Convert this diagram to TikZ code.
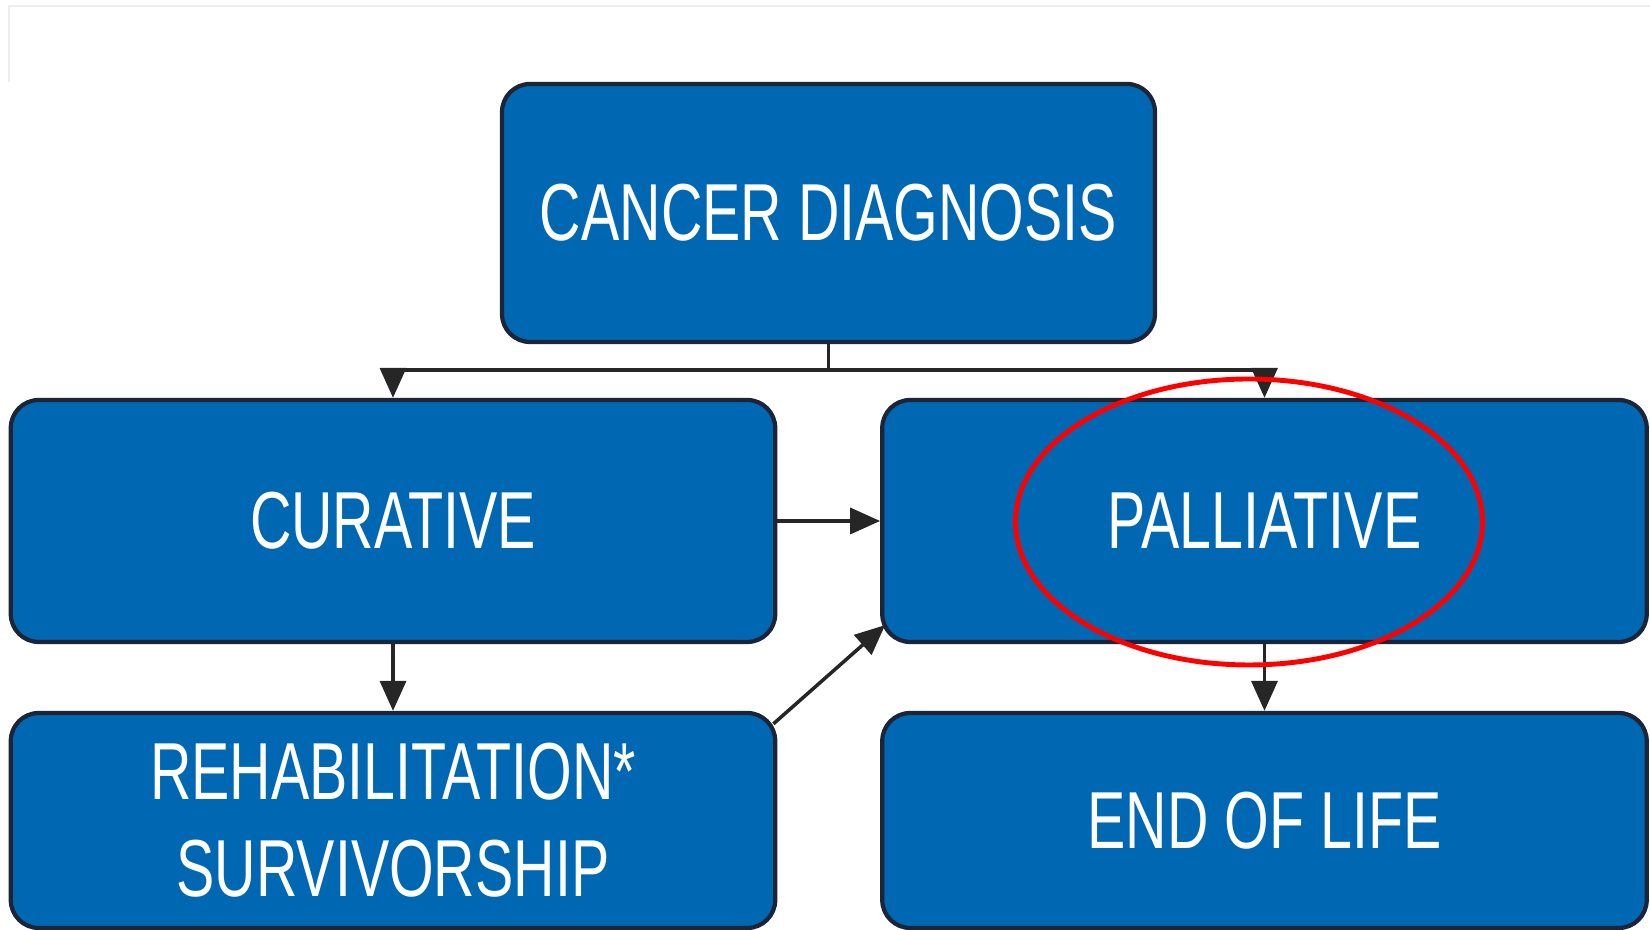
\documentclass[tikz,border=0pt]{standalone}
\usepackage{fontspec}
\usepackage{tikz}
\usetikzlibrary{arrows.meta,calc}
\newfontfamily\narrowsans[FakeStretch=0.71]{Liberation Sans}
\definecolor{boxblue}{RGB}{0,103,178}
\definecolor{boxedge}{RGB}{28,36,56}
\definecolor{framegray}{RGB}{238,238,238}

\begin{document}
\begin{tikzpicture}[every node/.style={font=\narrowsans\fontsize{23}{27.6}\selectfont}]
  \tikzset{
    stage/.style={draw=boxedge, line width=1.2pt, fill=boxblue, text=white,
      rounded corners=0.28cm, align=center, inner sep=0pt},
    link/.style={draw=black!85, line width=1pt},
    linkarrow/.style={link, -{Triangle[length=0.3cm,width=0.26cm]}}
  }
  \useasboundingbox (0,0) rectangle (16.5,9.3);

  % faint frame at top left
  \draw[framegray, line width=0.6pt] (0.09,8.48) -- (0.09,9.24) -- (16.5,9.24);

  % Top: diagnosis
  \node[stage, minimum width=6.53cm, minimum height=2.58cm] (diag) at (8.285,7.17) {CANCER DIAGNOSIS};

  % Middle row
  \node[stage, minimum width=7.645cm, minimum height=2.42cm] (cur) at (3.93,4.09) {CURATIVE};
  \node[stage, minimum width=7.645cm, minimum height=2.42cm] (pal) at (12.645,4.09) {PALLIATIVE};

  % Bottom row
  \node[stage, minimum width=7.645cm, minimum height=2.15cm] (reh) at (3.93,1.095) {REHABILITATION*\\SURVIVORSHIP};
  \node[stage, minimum width=7.645cm, minimum height=2.15cm] (eol) at (12.645,1.095) {END OF LIFE};

  % Connectors
  \draw[link] (diag.south) -- ++(0,-0.26) coordinate (split);
  \draw[linkarrow] (split) -| (cur.north);
  \draw[linkarrow] (split) -| (pal.north);
  \draw[linkarrow] (cur.east) -- (pal.west);
  \draw[linkarrow] (cur.south) -- (reh.north);
  \draw[linkarrow] (pal.south) -- (eol.north);
  \draw[linkarrow] ($(reh.north east)+(-0.04,-0.13)$) -- ($(pal.south west)+(0.05,0.19)$);

  % Highlight
  \draw[red, line width=1.4pt] ($(pal.center)+(-0.155,-0.01)$) ellipse (2.335 and 1.43);
\end{tikzpicture}
\end{document}
